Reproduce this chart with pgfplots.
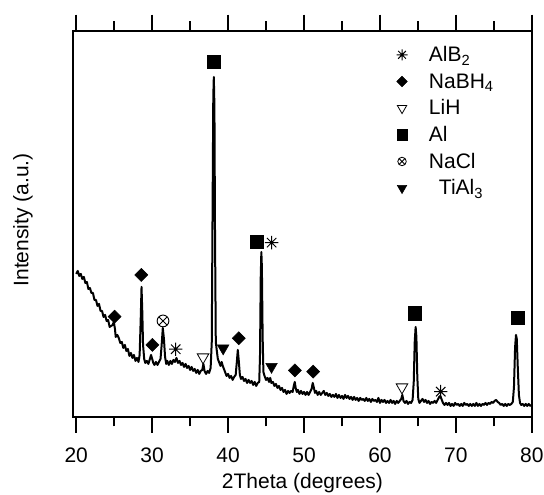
\documentclass[border=0pt]{standalone}
\usepackage{fontspec}
\setmainfont{Liberation Sans}
\usepackage{pgfplots}
\pgfplotsset{compat=1.18}
\pgfdeclareplotmark{ast8}{%
  \pgfpathmoveto{\pgfqpoint{0pt}{\pgfplotmarksize}}\pgfpathlineto{\pgfqpoint{0pt}{-\pgfplotmarksize}}%
  \pgfpathmoveto{\pgfqpoint{\pgfplotmarksize}{0pt}}\pgfpathlineto{\pgfqpoint{-\pgfplotmarksize}{0pt}}%
  \pgfpathmoveto{\pgfqpoint{.707\pgfplotmarksize}{.707\pgfplotmarksize}}\pgfpathlineto{\pgfqpoint{-.707\pgfplotmarksize}{-.707\pgfplotmarksize}}%
  \pgfpathmoveto{\pgfqpoint{.707\pgfplotmarksize}{-.707\pgfplotmarksize}}\pgfpathlineto{\pgfqpoint{-.707\pgfplotmarksize}{.707\pgfplotmarksize}}%
  \pgfusepathqstroke}
\begin{document}
\fontsize{15.75pt}{18pt}\selectfont
\begin{tikzpicture}
\path[use as bounding box] (-54.5pt,-58.5pt) rectangle (353.5pt,312.7pt);
\begin{axis}[
  at={(0pt,0pt)}, anchor=south west,
  scale only axis, width=344.7pt, height=289.7pt,
  xmin=19.53, xmax=80.06, ymin=0, ymax=386.3,
  axis line style={line width=1.3pt},
  xtick={20,30,...,80}, minor xtick={25,35,...,75},
  ytick=\empty,
  xtick pos=both, xticklabel pos=lower,
  tick align=outside,
  major tick length=12pt, minor tick length=7pt,
  every tick/.style={line width=1.3pt, black},
  /pgf/number format/assume math mode=true,
  xticklabel style={font=\fontsize{15.75pt}{18pt}\selectfont, yshift=-6pt},
  xlabel={2Theta (degrees)}, ylabel={Intensity (a.u.)},
  xlabel style={font=\fontsize{15.75pt}{18pt}\selectfont, at={(axis description cs:0.5,0)}, anchor=base, yshift=-54pt},
  ylabel style={font=\fontsize{15.75pt}{18pt}\selectfont, at={(axis description cs:-0.0966,0.51)}, anchor=base, rotate=0},
  legend style={draw=none, fill=none, inner sep=0pt, outer sep=0pt,
    at={(axis description cs:0.703,0.972)}, anchor=north west,
    column sep=0pt,
    font=\fontsize{15.75pt}{18pt}\selectfont,
    nodes={inner sep=0pt, text height=15pt, text depth=5pt, anchor=west}},
  legend cell align=left,
  legend image code/.code={\draw[#1] plot coordinates {(0pt,0pt)};\path (-4.5pt,0pt) (20pt,0pt);},
]
\addlegendimage{only marks, mark=ast8, mark size=4.1pt, mark options={line width=0.7pt, black}}
\addlegendentry{AlB\textsubscript{2}}
\addlegendimage{only marks, mark=square*, mark size=2.8pt, mark options={rotate=45, black, fill=black}}
\addlegendentry{NaBH\textsubscript{4}}
\addlegendimage{only marks, mark=triangle, mark size=4.1pt, mark options={rotate=180, black, line width=0.6pt}}
\addlegendentry{LiH}
\addlegendimage{only marks, mark=square*, mark size=3.8pt, mark options={black, fill=black}}
\addlegendentry{Al}
\addlegendimage{only marks, mark=otimes, mark size=3.2pt, mark options={black, line width=0.6pt}}
\addlegendentry{NaCl}
\addlegendimage{only marks, mark=triangle*, mark size=4.1pt, mark options={rotate=180, black, fill=black}}
\addlegendentry{\hspace{7.5pt}TiAl\textsubscript{3}}

\addplot[black, line width=1.5pt, line join=round, forget plot] coordinates {
(20.0,143) (20.2,146) (20.4,141) (20.6,143) (20.8,138) (21.0,140) (21.2,134) (21.4,135) (21.6,128) (21.8,129)
(22.0,124) (22.2,124) (22.4,117) (22.6,117) (22.8,111) (23.0,113) (23.2,106) (23.4,106) (23.6,100) (23.8,102)
(24.0,96) (24.2,97) (24.4,90) (24.6,91) (24.8,92) (24.95,95) (25.1,88) (25.2,80) (25.4,82)
(25.6,79) (25.8,74) (26.0,75) (26.2,69) (26.4,72) (26.6,66) (26.8,68) (27.0,61) (27.2,64) (27.4,59)
(27.6,62) (27.8,56) (28.0,59) (28.2,55) (28.35,62) (28.5,100) (28.6,130) (28.7,105) (28.8,72) (28.95,58)
(29.1,54) (29.3,56) (29.5,53) (29.7,58) (29.85,62) (30.0,58) (30.15,54) (30.3,52) (30.5,55) (30.7,52)
(30.9,55) (31.1,58) (31.25,72) (31.4,89) (31.55,78) (31.7,60) (31.85,53) (32.0,56) (32.2,52) (32.4,56)
(32.6,53) (32.8,57) (33.0,55) (33.2,59) (33.4,54) (33.6,56) (33.8,52) (34.0,54) (34.2,50) (34.4,53)
(34.6,49) (34.8,51) (35.0,47) (35.2,50) (35.4,46) (35.6,48) (35.8,44) (36.0,47) (36.2,43) (36.4,46)
(36.6,47) (36.75,53) (36.9,46) (37.1,43) (37.3,46) (37.5,44) (37.7,49) (37.85,75) (37.95,200) (38.05,320)
(38.12,340) (38.2,310) (38.28,180) (38.38,75) (38.5,67) (38.65,58) (38.8,55) (39.0,51) (39.15,55) (39.3,51)
(39.45,48) (39.6,45) (39.8,41) (40.0,43) (40.2,39) (40.4,41) (40.6,37) (40.8,40) (41.0,42) (41.15,55)
(41.28,67) (41.42,55) (41.55,42) (41.7,38) (41.9,40) (42.1,36) (42.3,38) (42.5,34) (42.7,37) (42.9,34)
(43.1,36) (43.3,32) (43.5,35) (43.7,31) (43.9,34) (44.1,35) (44.2,60) (44.3,140) (44.38,165) (44.45,150)
(44.55,80) (44.65,45) (44.8,41) (45.0,37) (45.2,39) (45.4,35) (45.55,39) (45.7,34) (45.9,35) (46.1,31)
(46.3,33) (46.5,29) (46.7,31) (46.9,27) (47.1,29) (47.3,25) (47.5,27) (47.7,23) (47.9,26) (48.1,24)
(48.3,26) (48.5,25) (48.65,31) (48.78,35) (48.9,29) (49.05,25) (49.2,27) (49.4,23) (49.6,26) (49.8,23)
(50.0,25) (50.2,22) (50.4,25) (50.6,22) (50.8,25) (51.0,28) (51.15,34) (51.3,29) (51.45,24) (51.6,26)
(51.8,22) (52.0,25) (52.2,22) (52.4,24) (52.6,26) (52.8,22) (53.0,24) (53.2,21) (53.4,23) (53.6,20)
(53.8,22) (54.0,20) (54.2,23) (54.4,19) (54.6,22) (54.8,19) (55.0,21) (55.2,18) (55.4,22) (55.6,19)
(55.8,21) (56.0,18) (56.2,20) (56.4,17) (56.6,20) (56.8,17) (57.0,19) (57.2,16) (57.4,19) (57.6,17)
(57.8,18) (58.0,16) (58.2,19) (58.4,16) (58.6,18) (58.8,15) (59.0,18) (59.2,16) (59.4,17) (59.6,15)
(59.8,19) (60.0,14) (60.2,17) (60.4,15) (60.6,17) (60.8,14) (61.0,16) (61.2,14) (61.4,17) (61.6,14)
(61.8,16) (62.0,13) (62.2,16) (62.4,14) (62.6,16) (62.8,18) (62.95,22) (63.1,16) (63.3,14) (63.5,16)
(63.7,13) (63.9,15) (64.1,14) (64.3,17) (64.45,35) (64.58,75) (64.7,90) (64.8,80) (64.92,40) (65.05,18)
(65.2,14) (65.4,16) (65.6,18) (65.8,15) (66.0,17) (66.2,14) (66.4,16) (66.6,13) (66.8,15) (67.0,14)
(67.2,16) (67.4,14) (67.6,17) (67.8,20) (67.95,21) (68.1,18) (68.3,14) (68.5,12) (68.7,14) (68.9,12)
(69.1,14) (69.3,11) (69.5,13) (69.7,11) (69.9,14) (70.1,12) (70.3,13) (70.5,11) (70.7,13) (70.9,11)
(71.1,14) (71.3,12) (71.5,13) (71.7,11) (71.9,13) (72.1,11) (72.3,13) (72.5,11) (72.7,14) (72.9,11)
(73.1,13) (73.3,11) (73.5,13) (73.7,12) (73.9,14) (74.1,12) (74.3,14) (74.5,13) (74.7,15) (74.9,14)
(75.1,16) (75.3,17) (75.5,15) (75.7,14) (75.9,12) (76.1,13) (76.3,11) (76.5,13) (76.7,11) (76.9,13)
(77.1,12) (77.3,13) (77.5,15) (77.65,30) (77.8,70) (77.92,82) (78.02,78) (78.15,50) (78.3,22) (78.45,14)
(78.6,12) (78.8,13) (79.0,11) (79.2,13) (79.4,11) (79.6,13) (79.8,11) (80.0,12)
};

\addplot[only marks, mark=ast8, mark size=5pt, mark options={line width=0.75pt, black}, forget plot]
  coordinates {(33.1,67.7) (45.73,174.3) (68.0,25.3)};
\addplot[only marks, mark=square*, mark size=3.45pt, mark options={rotate=45, black, fill=black}, forget plot]
  coordinates {(25.05,100.3) (28.57,142) (30.03,72) (41.41,78.7) (48.8,46.5) (51.2,45.3)};
\addplot[only marks, mark=triangle, mark size=5pt, mark options={rotate=180, black, line width=0.6pt}, forget plot]
  coordinates {(36.7,59.7) (62.9,29.7)};
\addplot[only marks, mark=square*, mark size=4.9pt, mark options={black, fill=black}, forget plot]
  coordinates {(38.15,355.3) (43.75,175.3) (64.6,103.7) (78.1,98.7)};
\addplot[only marks, mark=otimes, mark size=4.4pt, mark options={black, line width=0.7pt}, forget plot]
  coordinates {(31.43,96)};
\addplot[only marks, mark=triangle*, mark size=5pt, mark options={rotate=180, black, fill=black}, forget plot]
  coordinates {(39.35,68.7) (45.72,50.3)};
\end{axis}
\end{tikzpicture}
\end{document}
